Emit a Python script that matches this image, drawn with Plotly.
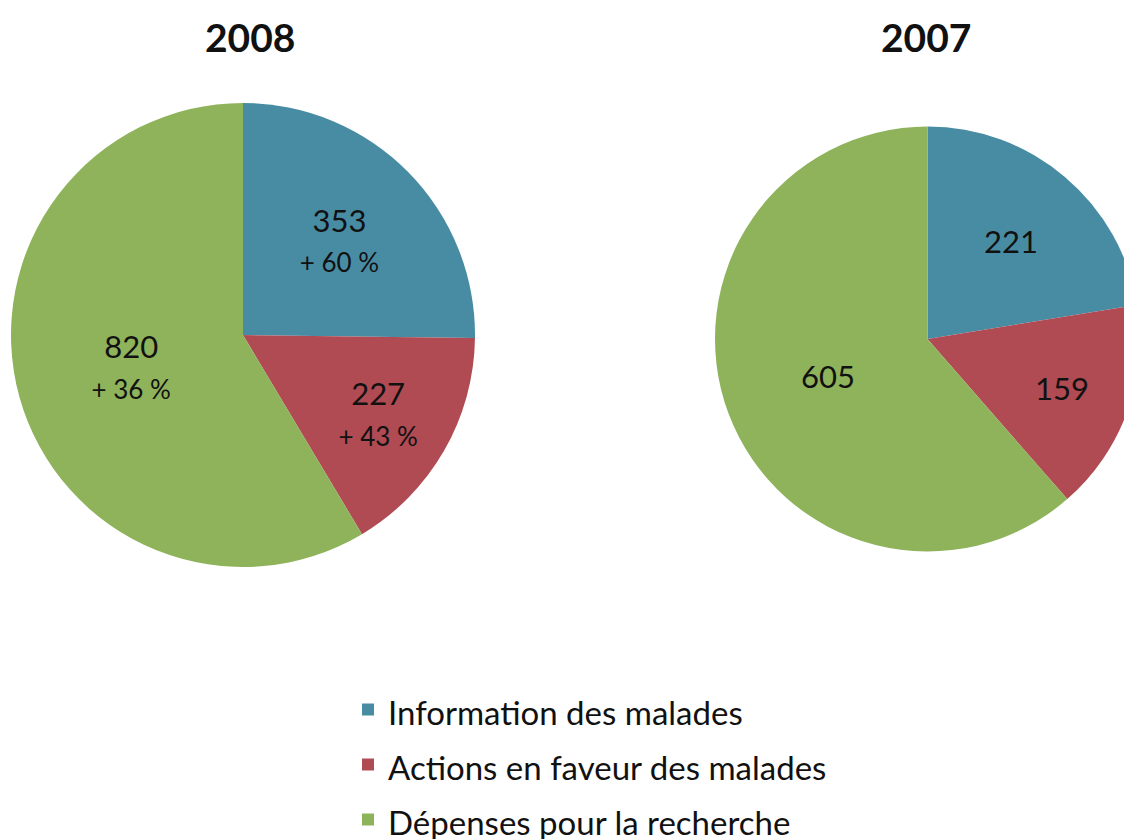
import plotly.graph_objects as go

# Data
categories = ["Information des malades", "Actions en faveur des malades", "Dépenses pour la recherche"]
values_2008 = [353, 227, 820]
values_2007 = [221, 159, 605]
growth_2008 = ["+ 60 %", "+ 43 %", "+ 36 %"]
years = ["2008", "2007"]

colors = ["#488CA4", "#B04A53", "#8FB35A"]
FONT = "Lato, 'Open Sans', sans-serif"

# page body adds an 8px margin, so the figure is a bit taller than the window
W, H = 1132, 844

# Legend labels: a bigger legend font sets the row spacing, the span keeps the glyphs smaller
legend_labels = [f"<span style='font-size:33px'>{c}</span>" for c in categories]

# Labels: value on first line, growth (smaller) on second line for 2008
text_2008 = [f"{v}<br><span style='font-size:26px'>{g}</span>" for v, g in zip(values_2008, growth_2008)]
text_2007 = [str(v) for v in values_2007]

fig = go.Figure()

fig.add_trace(go.Pie(
    labels=legend_labels,
    values=values_2008,
    text=text_2008,
    textinfo="text",
    textposition="inside",
    insidetextorientation="horizontal",
    sort=False,
    direction="clockwise",
    rotation=0,
    marker=dict(colors=colors, line=dict(width=0)),
    textfont=dict(family=FONT, size=31, color="#111111"),
    domain=dict(x=[3 / W, 467 / W], y=[1 - 559 / H, 1 - 95 / H]),
    hoverinfo="label+value",
    name=years[0],
))

fig.add_trace(go.Pie(
    labels=legend_labels,
    values=values_2007,
    text=text_2007,
    textinfo="text",
    textposition="inside",
    insidetextorientation="horizontal",
    sort=False,
    direction="clockwise",
    rotation=0,
    marker=dict(colors=colors, line=dict(width=0)),
    textfont=dict(family=FONT, size=31, color="#111111"),
    domain=dict(x=[707 / W, 1.0], y=[1 - 545 / H, 1 - 117 / H]),
    hoverinfo="label+value",
    name=years[1],
))

# Titles above each pie
for yr, cx in zip(years, [242, 918]):
    fig.add_annotation(
        x=cx / W, y=1 - 29 / H, xref="paper", yref="paper",
        text=f"<b>{yr}</b>", showarrow=False,
        font=dict(family=FONT, size=39, color="#111111"),
        xanchor="center", yanchor="middle",
    )

fig.update_layout(
    width=W,
    height=H,
    margin=dict(l=0, r=0, t=0, b=0),
    paper_bgcolor="#ffffff",
    plot_bgcolor="#ffffff",
    showlegend=True,
    legend=dict(
        x=340 / W, y=0,
        xanchor="left", yanchor="bottom",
        font=dict(family=FONT, size=40, color="#111111"),
        itemwidth=30,
        traceorder="normal",
    ),
)

fig.write_html("out.html")
